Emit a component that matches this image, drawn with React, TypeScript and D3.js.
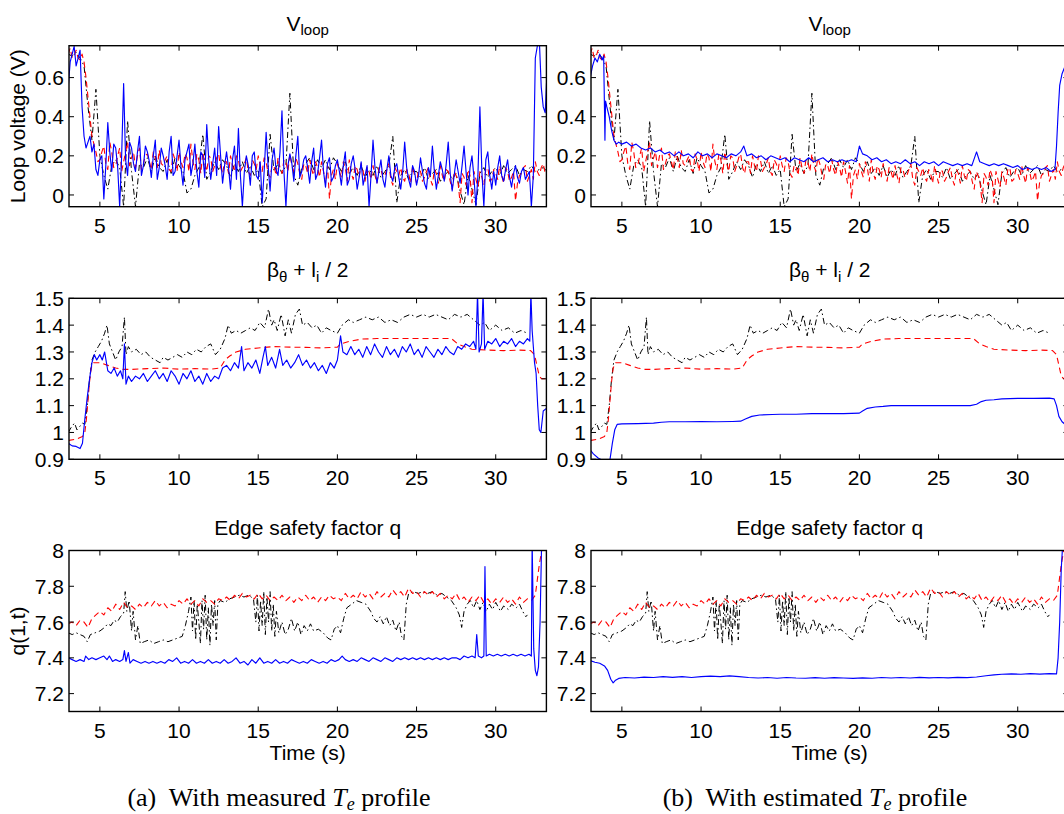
import React from "react";
import * as d3 from "d3";

type Pt = [number, number];

// ---------- shared sampling grids (s) ----------
const TIME_GRID = [
  3, 3.25, 3.5, 3.75, 4, 4.25, 4.5, 4.75, 5, 5.25, 5.5, 5.75, 6, 6.25, 6.5, 6.75,
  7, 7.25, 7.5, 7.75, 8, 8.25, 8.5, 8.75, 9, 9.25, 9.5, 9.75, 10, 10.25, 10.5, 10.75,
  11, 11.25, 11.5, 11.75, 12, 12.25, 12.5, 12.75, 13, 13.25, 13.5, 13.75, 14, 14.25, 14.5, 14.75,
  15, 15.25, 15.5, 15.75, 16, 16.25, 16.5, 16.75, 17, 17.25, 17.5, 17.75, 18, 18.25, 18.5, 18.75,
  19, 19.25, 19.5, 19.75, 20, 20.25, 20.5, 20.75, 21, 21.25, 21.5, 21.75, 22, 22.25, 22.5, 22.75,
  23, 23.25, 23.5, 23.75, 24, 24.25, 24.5, 24.75, 25, 25.25, 25.5, 25.75, 26, 26.25, 26.5, 26.75,
  27, 27.25, 27.5, 27.75, 28, 28.25, 28.5, 28.75, 29, 29.25, 29.5, 29.75, 30, 30.25, 30.5, 30.75,
  31, 31.25, 31.5, 31.75, 32, 32.25, 32.5, 32.75, 33, 33.25,
];
const TIME_GRID_MID = [
  3.125, 3.375, 3.625, 3.875, 4.125, 4.375, 4.625, 4.875, 5.125, 5.375, 5.625, 5.875,
  6.125, 6.375, 6.625, 6.875, 7.125, 7.375, 7.625, 7.875, 8.125, 8.375, 8.625, 8.875,
  9.125, 9.375, 9.625, 9.875, 10.125, 10.375, 10.625, 10.875, 11.125, 11.375, 11.625, 11.875,
  12.125, 12.375, 12.625, 12.875, 13.125, 13.375, 13.625, 13.875, 14.125, 14.375, 14.625, 14.875,
  15.125, 15.375, 15.625, 15.875, 16.125, 16.375, 16.625, 16.875, 17.125, 17.375, 17.625, 17.875,
  18.125, 18.375, 18.625, 18.875, 19.125, 19.375, 19.625, 19.875, 20.125, 20.375, 20.625, 20.875,
  21.125, 21.375, 21.625, 21.875, 22.125, 22.375, 22.625, 22.875, 23.125, 23.375, 23.625, 23.875,
  24.125, 24.375, 24.625, 24.875, 25.125, 25.375, 25.625, 25.875, 26.125, 26.375, 26.625, 26.875,
  27.125, 27.375, 27.625, 27.875, 28.125, 28.375, 28.625, 28.875, 29.125, 29.375, 29.625, 29.875,
  30.125, 30.375, 30.625, 30.875, 31.125, 31.375, 31.625, 31.875, 32.125, 32.375, 32.625, 32.875,
  33.125,
];

const X_TICKS = [5, 10, 15, 20, 25, 30];
const VLOOP_TICKS = [0, 0.2, 0.4, 0.6];
const BETA_TICKS = [0.9, 1, 1.1, 1.2, 1.3, 1.4, 1.5];
const Q_TICKS = [7.2, 7.4, 7.6, 7.8, 8];

// ---------- Loop voltage (V), on TIME_GRID ----------
const VLOOP_BLACK = [
  0.72, 0.71, 0.73, 0.70, 0.66, 0.45, 0.28, 0.54, 0.20, 0.10, 0.03, 0.15,
  0.18, 0.14, -0.06, 0.38, 0.12, -0.06, 0.16, 0.14, 0.19, 0.12, 0.20, 0.14,
  0.12, 0.18, 0.11, 0.19, 0.15, 0.12, 0.01, 0.03, 0.10, 0.14, 0.31, 0.08,
  0.12, 0.17, 0.13, 0.18, 0.15, 0.09, 0.16, 0.12, 0.17, 0.11, 0.15, 0.10,
  0.13, -0.06, -0.02, 0.31, 0.12, 0.16, 0.11, 0.15, 0.52, 0.10, 0.05, 0.14,
  0.16, 0.19, 0.13, 0.18, 0.14, 0.18, 0.13, 0.19, 0.16, 0.12, 0.17, 0.11,
  0.14, 0.10, 0.15, 0.09, 0.13, 0.10, 0.15, 0.09, 0.12, 0.15, 0.30, -0.04,
  0.10, 0.13, 0.08, 0.12, 0.12, 0.09, 0.14, 0.08, 0.11, 0.13, 0.07, 0.10,
  0.12, 0.08, 0.11, 0.02, -0.05, 0.10, 0.03, -0.05, 0.11, 0.14, 0.09, 0.12,
  0.14, 0.10, 0.15, 0.11, 0.13, 0.15, 0.10, 0.13, 0.12, 0.15, 0.12, 0.13,
  0.14, 0.12,
];
const VLOOP_RED = [
  0.72, 0.70, 0.74, 0.69, 0.68, 0.50, 0.30, 0.22, 0.18, 0.25, 0.13, 0.22,
  0.15, 0.24, 0.17, 0.27, 0.19, 0.14, 0.24, 0.16, 0.21, 0.13, 0.19, 0.23,
  0.15, 0.20, 0.12, 0.18, 0.22, 0.14, 0.19, 0.26, 0.13, 0.18, 0.22, 0.12,
  0.19, 0.15, 0.21, 0.11, 0.17, 0.20, 0.12, 0.18, 0.14, 0.19, 0.10, 0.16,
  0.20, 0.12, 0.17, 0.09, 0.15, 0.19, 0.11, 0.17, 0.21, 0.12, 0.16, 0.08,
  0.15, 0.18, 0.10, 0.14, 0.17, 0.06, -0.02, 0.13, 0.16, 0.09, 0.14, 0.18,
  0.08, 0.13, 0.16, 0.07, 0.12, 0.15, 0.06, 0.13, 0.10, 0.16, 0.05, 0.12,
  0.14, 0.07, 0.11, 0.15, 0.06, 0.12, 0.09, 0.14, 0.05, 0.11, 0.15, 0.07,
  0.12, 0.03, 0.10, -0.04, 0.09, 0.13, -0.04, 0.08, 0.12, 0.05, 0.14, 0.08,
  0.11, 0.15, 0.06, 0.12, 0.09, -0.03, 0.10, 0.14, 0.07, 0.13, 0.17, 0.10,
  0.16, 0.12,
];
// in-between samples of the same signal, on TIME_GRID_MID
const VLOOP_RED_MID = [
  0.75, 0.71, 0.70, 0.72, 0.60, 0.40, 0.26, 0.17, 0.22, 0.16, 0.27, 0.14,
  0.20, 0.12, 0.22, 0.15, 0.22, 0.20, 0.13, 0.20, 0.17, 0.22, 0.14, 0.16,
  0.18, 0.13, 0.21, 0.12, 0.17, 0.21, 0.12, 0.17, 0.21, 0.11, 0.16, 0.20,
  0.12, 0.19, 0.14, 0.17, 0.11, 0.15, 0.20, 0.12, 0.16, 0.12, 0.18, 0.13,
  0.15, 0.19, 0.11, 0.15, 0.10, 0.14, 0.18, 0.12, 0.15, 0.19, 0.11, 0.16,
  0.11, 0.13, 0.17, 0.09, 0.12, 0.15, 0.10, 0.08, 0.12, 0.17, 0.07, 0.11,
  0.15, 0.09, 0.12, 0.14, 0.08, 0.10, 0.14, 0.09, 0.13, 0.08, 0.14, 0.10,
  0.09, 0.13, 0.06, 0.10, 0.13, 0.07, 0.12, 0.08, 0.13, 0.06, 0.10, 0.13,
  0.07, 0.12, 0.06, 0.11, 0.05, 0.10, 0.12, 0.04, 0.09, 0.13, 0.07, 0.13,
  0.08, 0.10, 0.14, 0.07, 0.12, 0.06, 0.11, 0.15, 0.10, 0.08, 0.12, 0.14,
  0.11,
];
const VLOOP_BLUE_MEASURED = [
  0.55, 0.72, 0.66, 0.74, 0.30, 0.27, 0.22, 0.13, 0.18, -0.02, 0.37, 0.12,
  0.24, -0.06, 0.57, 0.10, 0.24, 0.12, 0.30, 0.15, 0.22, 0.09, 0.28, 0.14,
  0.20, 0.08, 0.30, 0.12, 0.28, 0.05, 0.22, 0.10, 0.26, 0.04, 0.20, 0.36,
  0.08, 0.24, 0.35, 0.06, 0.22, 0.03, 0.25, 0.34, -0.06, 0.20, 0.05, 0.22,
  0.08, -0.04, 0.32, 0.02, 0.24, 0.10, 0.43, -0.06, 0.21, 0.07, 0.30, 0.12,
  0.20, 0.06, 0.24, 0.11, 0.28, 0.04, 0.19, 0.09, 0.18, 0.05, 0.22, 0.08,
  0.20, 0.03, 0.17, 0.10, -0.06, 0.28, 0.06, 0.18, 0.04, 0.20, 0.07, 0.16,
  0.03, 0.27, 0.08, 0.15, 0.05, 0.19, 0.06, 0.14, 0.25, 0.03, 0.17, 0.07,
  0.27, 0.02, 0.18, 0.06, 0.25, 0.00, 0.20, -0.06, 0.45, -0.06, 0.22, 0.03,
  0.05, 0.20, 0.07, 0.18, 0.04, 0.15, 0.06, 0.14, 0.10, -0.06, 0.70, 0.80,
  0.45, 0.65,
];
// in-between samples of the same signal, on TIME_GRID_MID
const VLOOP_BLUE_MEASURED_MID = [
  0.68, 0.76, 0.70, 0.45, 0.24, 0.30, 0.26, 0.10, 0.20, 0.15, 0.22, 0.26,
  0.14, 0.20, 0.18, 0.27, 0.16, 0.22, 0.10, 0.25, 0.17, 0.20, 0.08, 0.24,
  0.15, 0.22, 0.10, 0.20, 0.14, 0.18, 0.26, 0.16, 0.12, 0.22, 0.09, 0.18,
  0.16, 0.10, 0.20, 0.15, 0.14, 0.18, 0.08, 0.10, 0.12, 0.15, 0.20, 0.10,
  0.17, 0.12, 0.15, 0.18, 0.13, 0.22, 0.12, 0.15, 0.16, 0.20, 0.09, 0.18,
  0.14, 0.17, 0.08, 0.19, 0.12, 0.16, 0.07, 0.15, 0.12, 0.15, 0.05, 0.16,
  0.13, 0.09, 0.05, 0.15, 0.10, 0.14, 0.12, 0.08, 0.13, 0.10, 0.14, 0.09,
  0.12, 0.14, 0.04, 0.12, 0.10, 0.12, 0.03, 0.10, 0.12, 0.10, 0.13, 0.16,
  0.11, 0.10, 0.12, 0.15, 0.12, 0.14, 0.09, 0.10, 0.12, 0.18, 0.10, 0.12,
  0.14, 0.10, 0.13, 0.09, 0.11, 0.09, 0.12, 0.08, 0.12, 0.10, 0.76, 0.55,
  0.42,
];
const VLOOP_BLUE_ESTIMATED: Pt[] = [
  [3.0, 0.60], [3.15, 0.66], [3.3, 0.70], [3.45, 0.68], [3.6, 0.72], [3.75, 0.69], [3.85, 0.71],
  [3.9, 0.45], [3.93, 0.28], [3.97, 0.48], [4.05, 0.45], [4.2, 0.40], [4.35, 0.33], [4.5, 0.28],
  [4.65, 0.26], [4.8, 0.27], [5.0, 0.26], [5.3, 0.27], [5.6, 0.25], [5.9, 0.26], [6.2, 0.24],
  [6.5, 0.23], [6.8, 0.24], [7.1, 0.22], [7.4, 0.23], [7.7, 0.21], [8.0, 0.22], [8.3, 0.20],
  [8.6, 0.22], [8.9, 0.20], [9.2, 0.21], [9.5, 0.19], [9.8, 0.22], [10.1, 0.20], [10.4, 0.21],
  [10.7, 0.19], [11.0, 0.21], [11.3, 0.20], [11.6, 0.19], [11.9, 0.21], [12.2, 0.20], [12.5, 0.22],
  [12.7, 0.25], [12.9, 0.20], [13.2, 0.21], [13.5, 0.19], [13.8, 0.20], [14.1, 0.18], [14.4, 0.20],
  [14.7, 0.19], [15.0, 0.18], [15.3, 0.19], [15.6, 0.17], [15.9, 0.19], [16.2, 0.18], [16.5, 0.17],
  [16.8, 0.19], [17.1, 0.17], [17.4, 0.18], [17.7, 0.19], [18.0, 0.17], [18.3, 0.18], [18.6, 0.17],
  [18.9, 0.18], [19.2, 0.17], [19.5, 0.18], [19.8, 0.17], [20.0, 0.25], [20.2, 0.21], [20.5, 0.20],
  [20.8, 0.18], [21.1, 0.19], [21.4, 0.17], [21.7, 0.18], [22.0, 0.16], [22.3, 0.17], [22.6, 0.16],
  [22.9, 0.18], [23.2, 0.16], [23.5, 0.17], [23.8, 0.15], [24.1, 0.17], [24.4, 0.16], [24.7, 0.17],
  [25.0, 0.15], [25.3, 0.17], [25.6, 0.16], [25.9, 0.15], [26.2, 0.16], [26.5, 0.15], [26.8, 0.16],
  [27.1, 0.15], [27.4, 0.22], [27.6, 0.17], [27.9, 0.16], [28.2, 0.15], [28.5, 0.16], [28.8, 0.15],
  [29.1, 0.16], [29.4, 0.15], [29.7, 0.14], [30.0, 0.15], [30.3, 0.13], [30.6, 0.14], [30.9, 0.13],
  [31.2, 0.14], [31.5, 0.13], [31.8, 0.14], [32.1, 0.12], [32.35, 0.13], [32.45, 0.25], [32.55, 0.42],
  [32.65, 0.56], [32.8, 0.62], [33.0, 0.66], [33.2, 0.67],
];

// ---------- beta_theta + l_i / 2 ----------
const BETA_BLACK: Pt[] = [
  [3.0, 1.0], [3.2, 1.02], [3.4, 1.035], [3.55, 1.01], [3.7, 1.02], [3.9, 1.035], [4.05, 1.03],
  [4.2, 1.10], [4.35, 1.20], [4.5, 1.27], [4.7, 1.30], [4.9, 1.32], [5.1, 1.34], [5.3, 1.37],
  [5.45, 1.40], [5.6, 1.33], [5.8, 1.30], [6.0, 1.27], [6.2, 1.30], [6.4, 1.32], [6.55, 1.43],
  [6.65, 1.29], [6.8, 1.32], [7.0, 1.30], [7.3, 1.31], [7.6, 1.29], [7.9, 1.30], [8.2, 1.28],
  [8.5, 1.27], [8.8, 1.26], [9.0, 1.28], [9.3, 1.27], [9.6, 1.28], [9.9, 1.29], [10.2, 1.28],
  [10.5, 1.30], [10.8, 1.29], [11.1, 1.31], [11.4, 1.30], [11.7, 1.32], [12.0, 1.33], [12.3, 1.29],
  [12.6, 1.31], [12.9, 1.35], [13.1, 1.40], [13.3, 1.37], [13.6, 1.38], [13.9, 1.37], [14.2, 1.38],
  [14.5, 1.39], [14.8, 1.38], [15.1, 1.41], [15.4, 1.39], [15.65, 1.46], [15.85, 1.40], [16.0, 1.42],
  [16.2, 1.38], [16.45, 1.44], [16.7, 1.36], [16.9, 1.42], [17.1, 1.37], [17.35, 1.44], [17.6, 1.46],
  [17.8, 1.40], [18.1, 1.41], [18.4, 1.39], [18.7, 1.40], [19.0, 1.37], [19.3, 1.39], [19.6, 1.38],
  [20.0, 1.37], [20.3, 1.40], [20.7, 1.42], [21.0, 1.41], [21.4, 1.42], [21.8, 1.43], [22.2, 1.42],
  [22.6, 1.43], [23.0, 1.41], [23.4, 1.42], [23.8, 1.41], [24.2, 1.43], [24.6, 1.44], [25.0, 1.43],
  [25.4, 1.44], [25.8, 1.43], [26.2, 1.44], [26.6, 1.43], [27.0, 1.42], [27.4, 1.44], [27.8, 1.43],
  [28.2, 1.44], [28.6, 1.42], [29.0, 1.40], [29.3, 1.41], [29.6, 1.38], [30.0, 1.40], [30.4, 1.38],
  [30.8, 1.39], [31.2, 1.37], [31.6, 1.38], [32.0, 1.37],
];
const BETA_RED: Pt[] = [
  [3.0, 0.97], [3.5, 0.975], [3.9, 0.985], [4.05, 1.0], [4.15, 1.05], [4.25, 1.12], [4.35, 1.19],
  [4.45, 1.24], [4.6, 1.26], [5.0, 1.26], [5.5, 1.25], [6.0, 1.24], [6.5, 1.235], [7.0, 1.235],
  [8.0, 1.238], [9.0, 1.24], [10.0, 1.236], [11.0, 1.238], [12.0, 1.236], [12.6, 1.24], [12.9, 1.27],
  [13.2, 1.285], [13.6, 1.30], [14.2, 1.31], [15.0, 1.315], [16.0, 1.32], [17.0, 1.318], [18.0, 1.317],
  [19.0, 1.315], [20.0, 1.318], [20.2, 1.33], [20.8, 1.34], [21.5, 1.348], [22.5, 1.35], [24.0, 1.35],
  [25.0, 1.35], [26.0, 1.35], [27.2, 1.35], [27.6, 1.33], [28.0, 1.32], [28.5, 1.31], [29.5, 1.307],
  [30.5, 1.305], [31.5, 1.307], [32.2, 1.305], [32.45, 1.29], [32.6, 1.25], [32.75, 1.21], [32.9, 1.20],
  [33.2, 1.20],
];
const BETA_BLUE_MEASURED: Pt[] = [
  [3.0, 0.96], [3.25, 0.95], [3.5, 0.948], [3.75, 0.94], [3.9, 0.96], [4.05, 1.05], [4.2, 1.13],
  [4.35, 1.20], [4.5, 1.26], [4.65, 1.29], [4.8, 1.27], [5.0, 1.29], [5.15, 1.27], [5.3, 1.30],
  [5.5, 1.23], [5.7, 1.22], [5.9, 1.24], [6.1, 1.21], [6.3, 1.23], [6.45, 1.20], [6.55, 1.33],
  [6.65, 1.18], [6.8, 1.21], [7.0, 1.19], [7.25, 1.21], [7.5, 1.20], [7.75, 1.22], [8.0, 1.19],
  [8.25, 1.21], [8.5, 1.23], [8.75, 1.20], [9.0, 1.22], [9.25, 1.19], [9.5, 1.23], [9.75, 1.21],
  [10.0, 1.18], [10.25, 1.22], [10.5, 1.20], [10.75, 1.23], [11.0, 1.19], [11.25, 1.21], [11.5, 1.18],
  [11.75, 1.22], [12.0, 1.19], [12.25, 1.21], [12.5, 1.20], [12.75, 1.24], [13.0, 1.25], [13.25, 1.23],
  [13.5, 1.26], [13.75, 1.24], [13.95, 1.32], [14.1, 1.23], [14.35, 1.26], [14.6, 1.24], [14.85, 1.27],
  [15.1, 1.22], [15.3, 1.28], [15.45, 1.32], [15.6, 1.25], [15.85, 1.28], [16.1, 1.24], [16.35, 1.31],
  [16.55, 1.25], [16.8, 1.27], [17.05, 1.24], [17.3, 1.26], [17.55, 1.29], [17.8, 1.25], [18.05, 1.27],
  [18.3, 1.24], [18.55, 1.26], [18.8, 1.23], [19.05, 1.25], [19.3, 1.22], [19.55, 1.26], [19.8, 1.24],
  [20.0, 1.27], [20.2, 1.36], [20.35, 1.30], [20.6, 1.29], [20.85, 1.32], [21.1, 1.29], [21.35, 1.31],
  [21.6, 1.28], [21.85, 1.32], [22.1, 1.29], [22.35, 1.33], [22.6, 1.30], [22.85, 1.28], [23.1, 1.32],
  [23.35, 1.29], [23.6, 1.31], [23.85, 1.28], [24.1, 1.32], [24.35, 1.30], [24.6, 1.33], [24.85, 1.29],
  [25.1, 1.31], [25.35, 1.28], [25.6, 1.32], [25.85, 1.30], [26.1, 1.28], [26.35, 1.31], [26.6, 1.29],
  [26.85, 1.32], [27.1, 1.30], [27.35, 1.29], [27.6, 1.32], [27.85, 1.31], [28.1, 1.33], [28.35, 1.32],
  [28.6, 1.34], [28.75, 1.31], [28.85, 1.52], [28.95, 1.30], [29.1, 1.33], [29.2, 1.52], [29.3, 1.31],
  [29.5, 1.34], [29.75, 1.33], [30.0, 1.35], [30.25, 1.32], [30.5, 1.34], [30.75, 1.33], [31.0, 1.35],
  [31.25, 1.32], [31.5, 1.34], [31.75, 1.33], [32.0, 1.35], [32.15, 1.34], [32.22, 1.52], [32.3, 1.38],
  [32.45, 1.26], [32.55, 1.22], [32.65, 1.10], [32.75, 1.01], [32.85, 1.0], [33.0, 1.08], [33.2, 1.09],
];
const BETA_BLUE_ESTIMATED: Pt[] = [
  [3.0, 0.935], [3.2, 0.92], [3.5, 0.905], [3.8, 0.895], [4.1, 0.89], [4.25, 0.90], [4.4, 0.96],
  [4.55, 1.01], [4.7, 1.03], [5.0, 1.032], [6.0, 1.033], [7.0, 1.035], [7.5, 1.038], [8.0, 1.04],
  [9.0, 1.04], [10.0, 1.041], [11.0, 1.04], [12.0, 1.041], [12.5, 1.042], [12.8, 1.05], [13.2, 1.06],
  [13.7, 1.065], [14.5, 1.067], [15.0, 1.068], [16.0, 1.068], [17.0, 1.07], [18.0, 1.07], [19.0, 1.07],
  [20.0, 1.072], [20.2, 1.08], [20.5, 1.09], [21.0, 1.095], [21.5, 1.097], [22.0, 1.10], [24.0, 1.10],
  [25.0, 1.10], [26.0, 1.10], [27.0, 1.10], [27.4, 1.105], [27.7, 1.115], [28.0, 1.12], [28.5, 1.122],
  [29.0, 1.125], [30.0, 1.127], [31.0, 1.127], [32.0, 1.128], [32.3, 1.125], [32.45, 1.10], [32.6, 1.06],
  [32.8, 1.04], [33.0, 1.03], [33.2, 1.02],
];

// ---------- edge safety factor q(1,t) ----------
const Q_BLACK: Pt[] = [
  [3.0, 7.54], [3.25, 7.53], [3.5, 7.54], [3.75, 7.53], [4.0, 7.52], [4.2, 7.49], [4.4, 7.53],
  [4.7, 7.54], [5.0, 7.55], [5.3, 7.57], [5.5, 7.59], [5.7, 7.58], [5.9, 7.61], [6.1, 7.60],
  [6.3, 7.63], [6.5, 7.65], [6.6, 7.77], [6.7, 7.66], [6.85, 7.72], [7.0, 7.55], [7.1, 7.66],
  [7.25, 7.50], [7.4, 7.58], [7.55, 7.48], [7.8, 7.49], [8.1, 7.50], [8.4, 7.48], [8.7, 7.49],
  [9.0, 7.50], [9.3, 7.49], [9.6, 7.50], [9.9, 7.51], [10.2, 7.52], [10.4, 7.58], [10.6, 7.66],
  [10.75, 7.74], [10.85, 7.55], [10.95, 7.72], [11.05, 7.50], [11.15, 7.70], [11.25, 7.60], [11.35, 7.48],
  [11.45, 7.72], [11.55, 7.56], [11.65, 7.75], [11.75, 7.50], [11.85, 7.68], [11.95, 7.47], [12.05, 7.70],
  [12.15, 7.58], [12.25, 7.72], [12.35, 7.50], [12.45, 7.70], [12.6, 7.72], [12.9, 7.71], [13.2, 7.73],
  [13.5, 7.74], [13.8, 7.75], [14.1, 7.74], [14.4, 7.75], [14.7, 7.73], [14.85, 7.60], [14.95, 7.75],
  [15.05, 7.55], [15.15, 7.72], [15.25, 7.58], [15.35, 7.77], [15.45, 7.53], [15.55, 7.74], [15.65, 7.60],
  [15.75, 7.77], [15.85, 7.55], [15.95, 7.70], [16.05, 7.52], [16.15, 7.66], [16.3, 7.54], [16.5, 7.60],
  [16.7, 7.53], [16.9, 7.56], [17.1, 7.62], [17.3, 7.55], [17.5, 7.60], [17.7, 7.53], [17.9, 7.58],
  [18.1, 7.55], [18.3, 7.59], [18.5, 7.55], [18.8, 7.56], [19.1, 7.54], [19.4, 7.51], [19.6, 7.50],
  [19.8, 7.56], [20.0, 7.58], [20.2, 7.54], [20.4, 7.62], [20.6, 7.68], [20.9, 7.70], [21.2, 7.72],
  [21.5, 7.71], [21.8, 7.70], [22.1, 7.66], [22.3, 7.62], [22.5, 7.60], [22.7, 7.63], [22.9, 7.59],
  [23.1, 7.63], [23.3, 7.58], [23.5, 7.61], [23.7, 7.55], [23.9, 7.60], [24.05, 7.52], [24.2, 7.50],
  [24.35, 7.70], [24.5, 7.76], [24.8, 7.77], [25.1, 7.76], [25.4, 7.77], [25.7, 7.76], [26.0, 7.77],
  [26.3, 7.75], [26.6, 7.76], [26.9, 7.74], [27.2, 7.72], [27.5, 7.68], [27.7, 7.64], [27.85, 7.57],
  [28.0, 7.66], [28.2, 7.70], [28.4, 7.72], [28.6, 7.68], [28.8, 7.72], [29.0, 7.67], [29.2, 7.71],
  [29.4, 7.66], [29.6, 7.70], [29.8, 7.67], [30.0, 7.71], [30.3, 7.66], [30.5, 7.69], [30.8, 7.67],
  [31.0, 7.70], [31.3, 7.68], [31.5, 7.70], [31.7, 7.66], [31.9, 7.63], [32.0, 7.64],
];
const Q_RED = [
  7.59, 7.60, 7.58, 7.61, 7.60, 7.57, 7.62, 7.64, 7.66, 7.64, 7.68, 7.66,
  7.70, 7.67, 7.71, 7.68, 7.69, 7.67, 7.70, 7.68, 7.71, 7.69, 7.72, 7.69,
  7.71, 7.68, 7.70, 7.69, 7.72, 7.70, 7.73, 7.70, 7.72, 7.69, 7.73, 7.71,
  7.72, 7.70, 7.73, 7.72, 7.74, 7.72, 7.75, 7.73, 7.76, 7.74, 7.75, 7.73,
  7.76, 7.73, 7.75, 7.72, 7.74, 7.72, 7.75, 7.72, 7.74, 7.71, 7.74, 7.72,
  7.75, 7.72, 7.74, 7.71, 7.74, 7.72, 7.75, 7.73, 7.74, 7.72, 7.76, 7.73,
  7.75, 7.73, 7.77, 7.74, 7.76, 7.73, 7.77, 7.74, 7.76, 7.74, 7.78, 7.75,
  7.77, 7.74, 7.79, 7.76, 7.77, 7.74, 7.77, 7.75, 7.77, 7.74, 7.76, 7.73,
  7.75, 7.73, 7.76, 7.72, 7.74, 7.71, 7.74, 7.72, 7.75, 7.71, 7.73, 7.70,
  7.73, 7.71, 7.74, 7.71, 7.73, 7.70, 7.74, 7.71, 7.73, 7.72, 7.75, 7.92,
  8.05, 8.05,
];
const Q_BLUE_MEASURED: Pt[] = [
  [3.0, 7.40], [3.25, 7.39], [3.5, 7.38], [3.75, 7.39], [4.0, 7.38], [4.1, 7.41], [4.3, 7.39],
  [4.5, 7.40], [4.75, 7.39], [5.0, 7.40], [5.25, 7.41], [5.45, 7.39], [5.6, 7.41], [5.8, 7.38],
  [6.0, 7.39], [6.25, 7.38], [6.45, 7.39], [6.55, 7.44], [6.65, 7.38], [6.8, 7.43], [6.9, 7.37],
  [7.1, 7.39], [7.35, 7.38], [7.6, 7.37], [7.85, 7.38], [8.1, 7.37], [8.35, 7.38], [8.6, 7.37],
  [8.85, 7.38], [9.1, 7.37], [9.35, 7.39], [9.6, 7.38], [9.85, 7.40], [10.1, 7.37], [10.35, 7.38],
  [10.6, 7.37], [10.85, 7.39], [11.1, 7.37], [11.35, 7.38], [11.6, 7.37], [11.85, 7.39], [12.1, 7.37],
  [12.35, 7.38], [12.6, 7.37], [12.85, 7.39], [13.1, 7.37], [13.35, 7.38], [13.6, 7.40], [13.85, 7.37],
  [14.1, 7.38], [14.35, 7.36], [14.6, 7.39], [14.85, 7.37], [15.1, 7.40], [15.35, 7.37], [15.6, 7.38],
  [15.85, 7.37], [16.1, 7.39], [16.35, 7.37], [16.6, 7.38], [16.85, 7.37], [17.1, 7.39], [17.35, 7.38],
  [17.6, 7.37], [17.85, 7.38], [18.1, 7.37], [18.35, 7.39], [18.6, 7.38], [18.85, 7.37], [19.1, 7.38],
  [19.35, 7.37], [19.6, 7.39], [19.85, 7.38], [20.1, 7.39], [20.3, 7.41], [20.5, 7.39], [20.75, 7.38],
  [21.0, 7.39], [21.25, 7.38], [21.5, 7.40], [21.75, 7.39], [22.0, 7.38], [22.25, 7.40], [22.5, 7.39],
  [22.75, 7.38], [23.0, 7.40], [23.25, 7.39], [23.5, 7.38], [23.75, 7.40], [24.0, 7.39], [24.25, 7.40],
  [24.5, 7.39], [24.75, 7.40], [25.0, 7.39], [25.25, 7.40], [25.5, 7.39], [25.75, 7.40], [26.0, 7.39],
  [26.25, 7.40], [26.5, 7.39], [26.75, 7.40], [27.0, 7.39], [27.25, 7.40], [27.5, 7.40], [27.75, 7.39],
  [28.0, 7.41], [28.25, 7.40], [28.5, 7.41], [28.7, 7.40], [28.8, 7.53], [28.9, 7.41], [29.1, 7.40],
  [29.25, 7.41], [29.32, 7.91], [29.4, 7.41], [29.6, 7.42], [29.85, 7.41], [30.1, 7.42], [30.35, 7.41],
  [30.6, 7.42], [30.85, 7.41], [31.1, 7.42], [31.35, 7.41], [31.6, 7.42], [31.85, 7.41], [32.1, 7.42],
  [32.25, 7.41], [32.3, 8.05], [32.4, 7.45], [32.5, 7.33], [32.6, 7.30], [32.7, 7.35], [32.8, 7.60],
  [32.9, 8.05], [33.2, 8.05],
];
const Q_BLUE_ESTIMATED: Pt[] = [
  [3.0, 7.385], [3.3, 7.375], [3.6, 7.37], [3.9, 7.355], [4.1, 7.33], [4.3, 7.28], [4.45, 7.26],
  [4.6, 7.275], [4.8, 7.285], [5.2, 7.29], [5.8, 7.287], [6.4, 7.292], [7.0, 7.29], [7.6, 7.295],
  [8.2, 7.291], [8.8, 7.295], [9.4, 7.29], [10.0, 7.295], [10.6, 7.298], [11.2, 7.295], [11.8, 7.299],
  [12.4, 7.295], [13.0, 7.29], [13.6, 7.287], [14.2, 7.29], [14.8, 7.286], [15.4, 7.29], [16.0, 7.287],
  [16.6, 7.286], [17.2, 7.289], [17.8, 7.286], [18.4, 7.289], [19.0, 7.287], [19.6, 7.285], [20.2, 7.288],
  [20.8, 7.286], [21.4, 7.29], [22.0, 7.287], [22.6, 7.29], [23.2, 7.287], [23.8, 7.291], [24.4, 7.288],
  [25.0, 7.29], [25.6, 7.288], [26.2, 7.291], [26.8, 7.289], [27.4, 7.293], [28.0, 7.30], [28.5, 7.305],
  [29.0, 7.308], [29.6, 7.31], [30.2, 7.308], [30.8, 7.312], [31.4, 7.309], [32.0, 7.312], [32.45, 7.31],
  [32.55, 7.40], [32.65, 7.60], [32.75, 7.90], [32.85, 8.05], [33.2, 8.05],
];

// ---------- layout ----------
const SANS = '"Liberation Sans", Arial, Helvetica, sans-serif';
const SERIF = '"Liberation Serif", "Times New Roman", serif';
const FS = 21;
const T_DOMAIN: [number, number] = [3.05, 33.2];
const COL_X = [69, 591];
const PANEL_W = 477.4;
const ROW_Y = [45.7, 298.3, 550.5];
const PANEL_H = 161;

const onGrid = (vals: number[], grid: number[] = TIME_GRID): Pt[] =>
  vals.map((v, i) => [grid[i], v] as Pt);
const merged = (a: Pt[], b: Pt[]): Pt[] => [...a, ...b].sort((p, q) => p[0] - q[0]);

interface Series { data: Pt[]; color: string; dash?: string; width?: number }

const BLACK = (d: Pt[]): Series => ({ data: d, color: "#000000", dash: "6,3,1.5,3", width: 1 });
const RED = (d: Pt[]): Series => ({ data: d, color: "#ff0000", dash: "6,4", width: 1.1 });
const BLUE = (d: Pt[]): Series => ({ data: d, color: "#0000ff", width: 1.15 });

function Panel(props: {
  id: string; col: number; row: number; yDomain: [number, number]; yTicks: number[];
  series: Series[]; title: React.ReactNode; ylabel?: string; xlabel?: boolean;
}) {
  const { id, col, row, yDomain, yTicks, series, title, ylabel, xlabel } = props;
  const x0 = COL_X[col];
  const y0 = ROW_Y[row];
  const x1 = x0 + PANEL_W;
  const y1 = y0 + PANEL_H;
  const xs = d3.scaleLinear().domain(T_DOMAIN).range([x0, x1]);
  const ys = d3.scaleLinear().domain(yDomain).range([y1, y0]);
  const line = d3.line<Pt>().x((d) => xs(d[0])).y((d) => ys(d[1]));
  const cx = (x0 + x1) / 2;
  const tick = 5;
  return (
    <g>
      <defs>
        <clipPath id={`clip-${id}`}>
          <rect x={x0} y={y0} width={PANEL_W} height={PANEL_H} />
        </clipPath>
      </defs>
      <g clipPath={`url(#clip-${id})`}>
        {series.map((s, i) => (
          <path key={i} d={line(s.data) || ""} fill="none" stroke={s.color}
            strokeWidth={s.width ?? 1} strokeDasharray={s.dash} strokeLinejoin="round" />
        ))}
      </g>
      {X_TICKS.map((t) => (
        <g key={`xt${t}`}>
          <line x1={xs(t)} x2={xs(t)} y1={y1} y2={y1 - tick} stroke="#000" strokeWidth={1} />
          <line x1={xs(t)} x2={xs(t)} y1={y0} y2={y0 + tick} stroke="#000" strokeWidth={1} />
          <text x={xs(t)} y={y1 + 26} textAnchor="middle" fontFamily={SANS} fontSize={FS}>{t}</text>
        </g>
      ))}
      {yTicks.map((v) => (
        <g key={`yt${v}`}>
          <line x1={x0} x2={x0 + tick} y1={ys(v)} y2={ys(v)} stroke="#000" strokeWidth={1} />
          <line x1={x1} x2={x1 - tick} y1={ys(v)} y2={ys(v)} stroke="#000" strokeWidth={1} />
          <text x={x0 - 5} y={ys(v)} dy="0.36em" textAnchor="end" fontFamily={SANS} fontSize={FS}>{String(v)}</text>
        </g>
      ))}
      <rect x={x0} y={y0} width={PANEL_W} height={PANEL_H} fill="none" stroke="#000" strokeWidth={1.4} />
      <g transform={`translate(${cx},0)`}>{title}</g>
      {ylabel && (
        <text transform={`translate(25,${(y0 + y1) / 2}) rotate(-90)`} textAnchor="middle"
          fontFamily={SANS} fontSize={FS}>{ylabel}</text>
      )}
      {xlabel && (
        <text x={cx} y={y1 + 48} textAnchor="middle" fontFamily={SANS} fontSize={FS}>Time (s)</text>
      )}
    </g>
  );
}

const VloopTitle = (
  <text x={0} y={31} textAnchor="middle" fontFamily={SANS} fontSize={FS}>
    V<tspan fontSize={15} dy={4}>loop</tspan>
  </text>
);
const BetaTitle = (
  <text x={0} y={277} textAnchor="middle" fontFamily={SANS} fontSize={FS}>
    β<tspan fontSize={15} dy={5}>θ</tspan>
    <tspan dy={-5}>{"\u00a0+ l"}</tspan>
    <tspan fontSize={15} dy={5}>i</tspan>
    <tspan dy={-5}>{"\u00a0/ 2"}</tspan>
  </text>
);
const QTitle = (
  <text x={0} y={535} textAnchor="middle" fontFamily={SANS} fontSize={FS}>Edge safety factor q</text>
);

export default function App() {
  const black1 = BLACK(onGrid(VLOOP_BLACK));
  const red1 = RED(merged(onGrid(VLOOP_RED), onGrid(VLOOP_RED_MID, TIME_GRID_MID)));
  const blueMeasured1 = BLUE(merged(onGrid(VLOOP_BLUE_MEASURED), onGrid(VLOOP_BLUE_MEASURED_MID, TIME_GRID_MID)));
  const black2 = BLACK(BETA_BLACK);
  const red2 = RED(BETA_RED);
  const black3 = BLACK(Q_BLACK);
  const red3 = RED(onGrid(Q_RED));
  return (
    <svg width={1064} height={814} style={{ position: "absolute", left: 0, top: 0, background: "#fff" }}>
      <rect x={0} y={0} width={1064} height={814} fill="#fff" />
      <Panel id="a1" col={0} row={0} yDomain={[-0.06, 0.763]} yTicks={VLOOP_TICKS}
        series={[black1, red1, blueMeasured1]} title={VloopTitle} ylabel="Loop voltage (V)" />
      <Panel id="b1" col={1} row={0} yDomain={[-0.06, 0.763]} yTicks={VLOOP_TICKS}
        series={[black1, red1, BLUE(VLOOP_BLUE_ESTIMATED)]} title={VloopTitle} />
      <Panel id="a2" col={0} row={1} yDomain={[0.9, 1.5]} yTicks={BETA_TICKS}
        series={[black2, red2, BLUE(BETA_BLUE_MEASURED)]} title={BetaTitle} />
      <Panel id="b2" col={1} row={1} yDomain={[0.9, 1.5]} yTicks={BETA_TICKS}
        series={[black2, red2, BLUE(BETA_BLUE_ESTIMATED)]} title={BetaTitle} />
      <Panel id="a3" col={0} row={2} yDomain={[7.1, 8.0]} yTicks={Q_TICKS}
        series={[black3, red3, BLUE(Q_BLUE_MEASURED)]} title={QTitle} ylabel="q(1,t)" xlabel />
      <Panel id="b3" col={1} row={2} yDomain={[7.1, 8.0]} yTicks={Q_TICKS}
        series={[black3, red3, BLUE(Q_BLUE_ESTIMATED)]} title={QTitle} xlabel />
      <text x={279} y={806} textAnchor="middle" fontFamily={SERIF} fontSize={26} style={{ whiteSpace: "pre" }}>
        {"(a)  With measured "}<tspan fontStyle="italic">T</tspan>
        <tspan fontStyle="italic" fontSize={18} dy={4}>e</tspan>
        <tspan dy={-4}>{" profile"}</tspan>
      </text>
      <text x={815} y={806} textAnchor="middle" fontFamily={SERIF} fontSize={26} style={{ whiteSpace: "pre" }}>
        {"(b)  With estimated "}<tspan fontStyle="italic">T</tspan>
        <tspan fontStyle="italic" fontSize={18} dy={4}>e</tspan>
        <tspan dy={-4}>{" profile"}</tspan>
      </text>
    </svg>
  );
}
